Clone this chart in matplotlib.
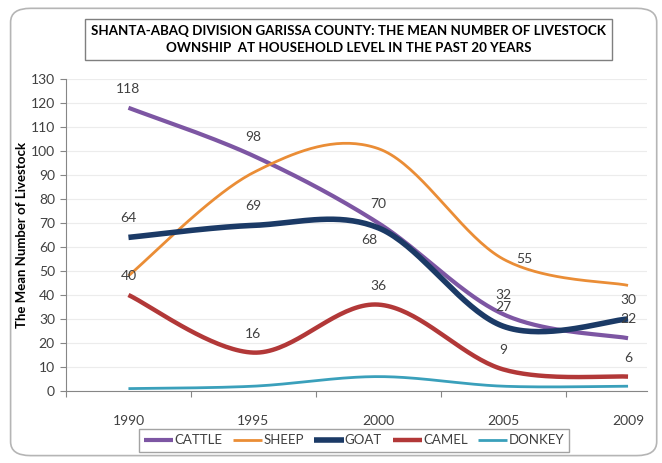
"""Mean livestock ownership per household, Shanta-Abaq division, 1990-2009."""

import numpy as np
import matplotlib.pyplot as plt
from matplotlib.patches import FancyBboxPatch

plt.rcParams["font.family"] = ["Lato", "DejaVu Sans"]

years = ["1990", "1995", "2000", "2005", "2009"]
cattle = [118, 98, 70, 32, 22]
sheep = [48, 91, 101, 55, 44]
goat = [64, 69, 68, 27, 30]
camel = [40, 16, 36, 9, 6]
donkey = [1, 2, 6, 2, 2]

series_names = ["CATTLE", "SHEEP", "GOAT", "CAMEL", "DONKEY"]


def smooth(values, n=40):
    # cubic Bezier between neighbouring points, control points from the
    # adjacent points (same idea as a spreadsheet's "smoothed line")
    pts = np.column_stack([np.arange(len(values), dtype=float),
                           np.asarray(values, dtype=float)])
    padded = np.vstack([pts[0], pts, pts[-1]])
    t = np.linspace(0, 1, n)[:, None]
    parts = []
    for i in range(len(pts) - 1):
        p0, p1, p2, p3 = padded[i:i + 4]
        c1 = p1 + (p2 - p0) / 6
        c2 = p2 - (p3 - p1) / 6
        seg = ((1 - t) ** 3 * p1 + 3 * (1 - t) ** 2 * t * c1
               + 3 * (1 - t) * t ** 2 * c2 + t ** 3 * p2)
        parts.append(seg if i == 0 else seg[1:])
    curve = np.vstack(parts)
    return curve[:, 0], curve[:, 1]


fig = plt.figure(figsize=(6.62, 4.63), dpi=100)
ax = fig.add_axes([0.0997, 0.1555, 0.8773, 0.6739])

# rounded chart frame
fig.patches.append(FancyBboxPatch((0.016, 0.016), 0.976, 0.966,
                                  boxstyle="round,pad=0,rounding_size=0.03",
                                  transform=fig.transFigure, fill=False,
                                  edgecolor="#b5b5b5", linewidth=1.2))

styles = {
    "CATTLE": dict(color="#7d56a3", lw=3.0),
    "SHEEP": dict(color="#ea8d36", lw=2.0),
    "GOAT": dict(color="#1b3a66", lw=4.0),
    "CAMEL": dict(color="#b23838", lw=3.2),
    "DONKEY": dict(color="#3aa0bb", lw=2.0),
}
data = dict(zip(series_names, [cattle, sheep, goat, camel, donkey]))

for name in series_names:
    xs, ys = smooth(data[name])
    ax.plot(xs, ys, label=name, solid_capstyle="butt", **styles[name])

# data labels: (series, index, dx px, dy px)
label_pos = []
for i in range(5):
    label_pos.append(("CATTLE", i, 0, 19))
    label_pos.append(("CAMEL", i, 0, 19))
    label_pos.append(("GOAT", i, -9 if i == 2 else 0, -12 if i == 2 else 19))
label_pos.append(("SHEEP", 3, 21, 0))

for name, i, dx, dy in label_pos:
    ax.annotate(str(data[name][i]), (i, data[name][i]), xytext=(dx, dy),
                textcoords="offset pixels", ha="center", va="center",
                fontsize=10, color="#404040")

ax.set_ylim(0, 130)
ax.set_xlim(-0.5, 4.15)
ax.set_yticks(np.arange(0, 131, 10))
ax.set_xticks(np.arange(-0.5, 4.0, 1.0))
ax.set_xticklabels([])
ax.set_xticks(range(len(years)), minor=True)
ax.set_xticklabels(years, minor=True)
ax.tick_params(axis="x", which="minor", length=0, pad=17, labelsize=10,
               labelcolor="#404040")
ax.tick_params(axis="x", which="major", length=4, color="#868686")
ax.tick_params(axis="y", length=4, color="#868686", labelsize=10,
               labelcolor="#404040", pad=4)
ax.grid(axis="y", color="#ececec", linewidth=0.8)
ax.set_axisbelow(True)
for side in ["top", "right"]:
    ax.spines[side].set_visible(False)
for side in ["left", "bottom"]:
    ax.spines[side].set_color("#868686")

ax.set_ylabel("The Mean Number of Livestock", fontsize=9.5, fontweight="bold",
              labelpad=2)

# title in a box above the plot
fig.text(0.527, 0.914,
         "SHANTA-ABAQ DIVISION GARISSA COUNTY: THE MEAN NUMBER OF LIVESTOCK\n"
         "OWNSHIP  AT HOUSEHOLD LEVEL IN THE PAST 20 YEARS",
         ha="center", va="center", fontsize=9.6, fontweight="bold",
         linespacing=1.5,
         bbox=dict(boxstyle="square,pad=0.45", facecolor="white",
                   edgecolor="#7f7f7f", linewidth=1.0))

leg = ax.legend(loc="center", bbox_to_anchor=(0.535, 0.049),
                bbox_transform=fig.transFigure, ncol=5, fontsize=9.5,
                frameon=True, fancybox=False, edgecolor="#8c8c8c",
                handlelength=2.2, handletextpad=0.1, columnspacing=0.8,
                borderpad=0.4)
for text in leg.get_texts():
    text.set_color("#404040")

fig.savefig("out.png", dpi=100)
plt.close(fig)
